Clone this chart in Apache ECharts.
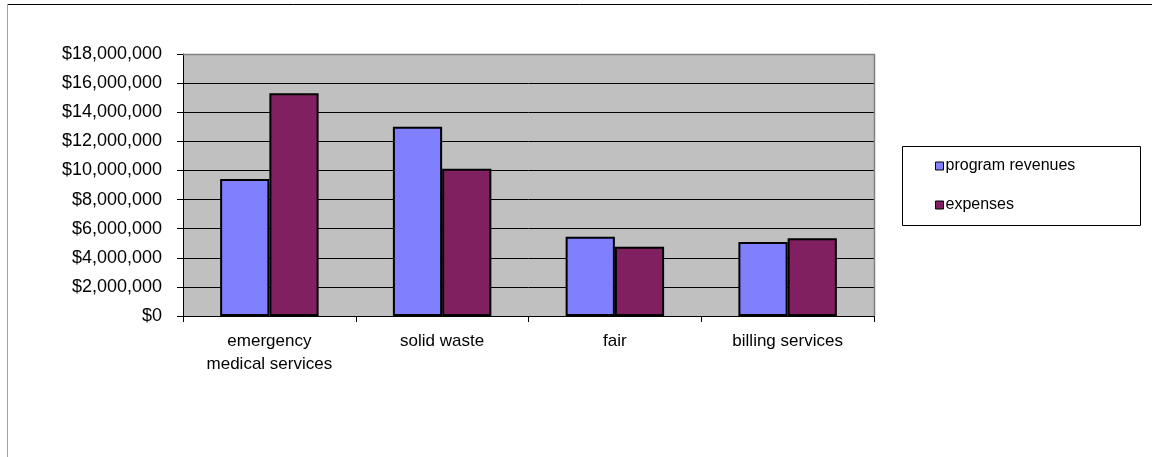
<!DOCTYPE html>
<html>
<head>
<meta charset="utf-8">
<script src="https://cdn.jsdelivr.net/npm/echarts@6/dist/echarts.min.js"></script>
<style>
  html, body { margin: 0; padding: 0; background: #fff; }
  #chart { width: 1152px; height: 457px; }
</style>
</head>
<body>
<div id="chart"></div>
<script>
// Program revenues vs. expenses by service
const categories = ['emergency\nmedical services', 'solid waste', 'fair', 'billing services'];
const programRevenues = [9410000, 13000000, 5440000, 5090000];
const expenses = [15300000, 10120000, 4750000, 5350000];
const seriesNames = ['program revenues', 'expenses'];

const FONT = '"Liberation Sans", Arial, sans-serif';

const chart = echarts.init(document.getElementById('chart'), null, { renderer: 'canvas' });

function money(v) {
  return '$' + v.toLocaleString('en-US');
}

const gridBox = { left: 183, top: 54, width: 691, height: 262 };

chart.setOption({
  backgroundColor: '#fff',
  animation: false,
  grid: Object.assign({
    show: true,
    backgroundColor: '#C0C0C0',
    borderWidth: 0,
    containLabel: false
  }, gridBox),
  graphic: [
    // outer frame: dark top edge, light left edge
    { type: 'line', shape: { x1: 7, y1: 4.5, x2: 1152, y2: 4.5 }, style: { stroke: '#000', lineWidth: 1 }, z: 10 },
    { type: 'line', shape: { x1: 7.5, y1: 4, x2: 7.5, y2: 457 }, style: { stroke: '#A0A0A0', lineWidth: 1 }, z: 10 },
    // grey plot border along top and right
    { type: 'polyline', shape: { points: [[183, 54.5], [874.5, 54.5], [874.5, 316]] }, style: { stroke: '#808080', lineWidth: 1.5, fill: null }, z: 5 },
    // legend box
    { type: 'rect', shape: { x: 902.5, y: 146.5, width: 238, height: 79 }, style: { fill: '#fff', stroke: '#000', lineWidth: 1 }, z: 1 }
  ],
  legend: {
    orient: 'vertical',
    left: 935,
    top: 158,
    padding: 0,
    itemWidth: 8,
    itemHeight: 8,
    itemGap: 23,
    icon: 'rect',
    data: seriesNames,
    itemStyle: { borderColor: '#000', borderWidth: 1 },
    textStyle: { fontFamily: FONT, fontSize: 16, color: '#000', padding: [0, 0, 0, -3] },
    z: 20
  },
  xAxis: {
    type: 'category',
    data: categories,
    axisLine: { show: true, lineStyle: { color: '#000', width: 1 } },
    axisTick: { show: true, inside: false, length: 6, interval: 0, alignWithLabel: false, lineStyle: { color: '#000' } },
    axisLabel: {
      interval: 0,
      margin: 14,
      fontFamily: FONT,
      fontSize: 17,
      lineHeight: 23,
      color: '#000'
    },
    splitLine: { show: false }
  },
  yAxis: {
    type: 'value',
    min: 0,
    max: 18000000,
    interval: 2000000,
    axisLine: { show: true, lineStyle: { color: '#000', width: 1 } },
    axisTick: { show: true, inside: false, length: 6, lineStyle: { color: '#000' } },
    axisLabel: {
      margin: 21,
      fontFamily: FONT,
      fontSize: 18,
      color: '#000',
      formatter: money
    },
    splitLine: { show: true, lineStyle: { color: '#000', width: 1 } }
  },
  series: [
    {
      name: seriesNames[0],
      type: 'bar',
      data: programRevenues,
      barGap: '0%',
      barCategoryGap: '43%',
      itemStyle: { color: '#8080FF', borderColor: '#000', borderWidth: 2 }
    },
    {
      name: seriesNames[1],
      type: 'bar',
      data: expenses,
      barGap: '0%',
      barCategoryGap: '43%',
      itemStyle: { color: '#802060', borderColor: '#000', borderWidth: 2 }
    }
  ]
});
</script>
</body>
</html>
